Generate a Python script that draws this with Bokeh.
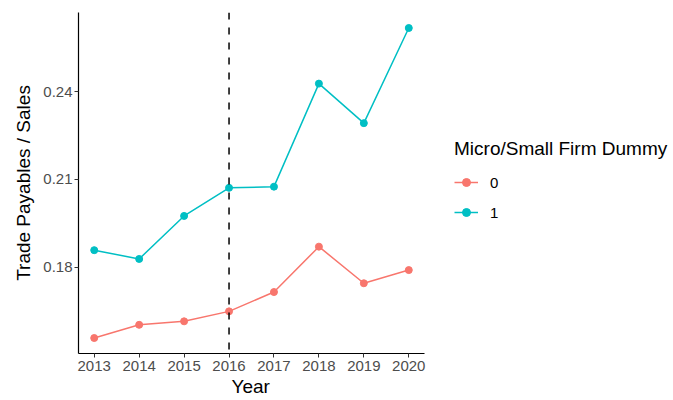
from bokeh.plotting import figure
from bokeh.models import Range1d, FixedTicker, Span, Legend, LegendItem, Title
from bokeh.embed import file_html
from bokeh.resources import INLINE

# Trade payables over sales by year, split by the micro/small firm dummy
years = [2013, 2014, 2015, 2016, 2017, 2018, 2019, 2020]
dummy_0 = [0.1558, 0.1603, 0.1615, 0.1649, 0.1715, 0.1870, 0.1745, 0.1790]
dummy_1 = [0.1858, 0.1828, 0.1975, 0.2071, 0.2075, 0.2427, 0.2292, 0.2617]
group_labels = ["0", "1"]
y_ticks = [0.18, 0.21, 0.24]
policy_year = 2016

colors = ["#F8766D", "#00BFC4"]
FONT = "Liberation Sans"

# Panel geometry: the data panel is 346 px wide; the frame continues to the
# right edge so the legend can sit inside it next to the panel.
PANEL_W, FRAME_W, FRAME_H = 346, 595, 341

all_vals = dummy_0 + dummy_1
lo, hi = min(all_vals), max(all_vals)
pad = (hi - lo) * 0.05
x0, x1 = min(years) - 0.35, max(years) + 0.35
x_end = x0 + (x1 - x0) * FRAME_W / PANEL_W

p = figure(
    frame_width=FRAME_W, frame_height=FRAME_H,
    output_backend="svg", toolbar_location=None,
    x_range=Range1d(x0, x_end),
    y_range=Range1d(lo - pad, hi + pad),
    min_border_left=78, min_border_right=0,
    min_border_top=12, min_border_bottom=0,
)
p.outline_line_color = None
p.xgrid.visible = False
p.ygrid.visible = False
p.background_fill_color = "white"
p.border_fill_color = "white"

items = []
for vals, col, lab in zip([dummy_0, dummy_1], colors, group_labels):
    r_line = p.line(years, vals, line_color=col, line_width=1.5)
    r_pts = p.scatter(years, vals, size=7, fill_color=col, line_color=col)
    items.append(LegendItem(label=lab, renderers=[r_line, r_pts]))

p.add_layout(Span(location=policy_year, dimension="height",
                  line_color="black", line_width=1.5, line_dash="7 8"))

# Axes
p.xaxis.ticker = FixedTicker(ticks=years)
p.xaxis.bounds = (x0, x1)
p.yaxis.ticker = FixedTicker(ticks=y_ticks)
p.yaxis.axis_label = "Trade Payables / Sales"
for ax in (p.xaxis, p.yaxis):
    ax.axis_line_color = "black"
    ax.axis_line_width = 1.2
    ax.major_tick_line_color = "#333333"
    ax.major_tick_out = 4
    ax.major_tick_in = 0
    ax.minor_tick_line_color = None
    ax.major_label_text_font = FONT
    ax.major_label_text_font_size = "15px"
    ax.major_label_text_color = "#4D4D4D"
    ax.axis_label_text_font = FONT
    ax.axis_label_text_font_size = "19px"
    ax.axis_label_text_font_style = "normal"
    ax.axis_label_text_color = "black"
p.xaxis.major_label_standoff = 3
p.yaxis.major_label_standoff = 2
p.yaxis.axis_label_standoff = 6

# x-axis title centred under the data panel (not the whole frame)
p.add_layout(Title(text="Year", align="left", offset=153, standoff=0,
                   text_font=FONT, text_font_size="19px",
                   text_font_style="normal", text_color="black"), "below")

legend = Legend(
    items=items,
    title="Micro/Small Firm Dummy",
    title_text_font=FONT, title_text_font_size="19px",
    title_text_font_style="normal", title_text_color="black",
    title_standoff=12,
    label_text_font=FONT, label_text_font_size="15px", label_text_color="black",
    glyph_width=24, glyph_height=20, label_height=20,
    label_standoff=12, spacing=10,
    border_line_color=None, background_fill_alpha=0,
    margin=0, padding=0, location=(376, 131),
)
p.add_layout(legend)

open("out.html", "w").write(file_html(p, INLINE))
